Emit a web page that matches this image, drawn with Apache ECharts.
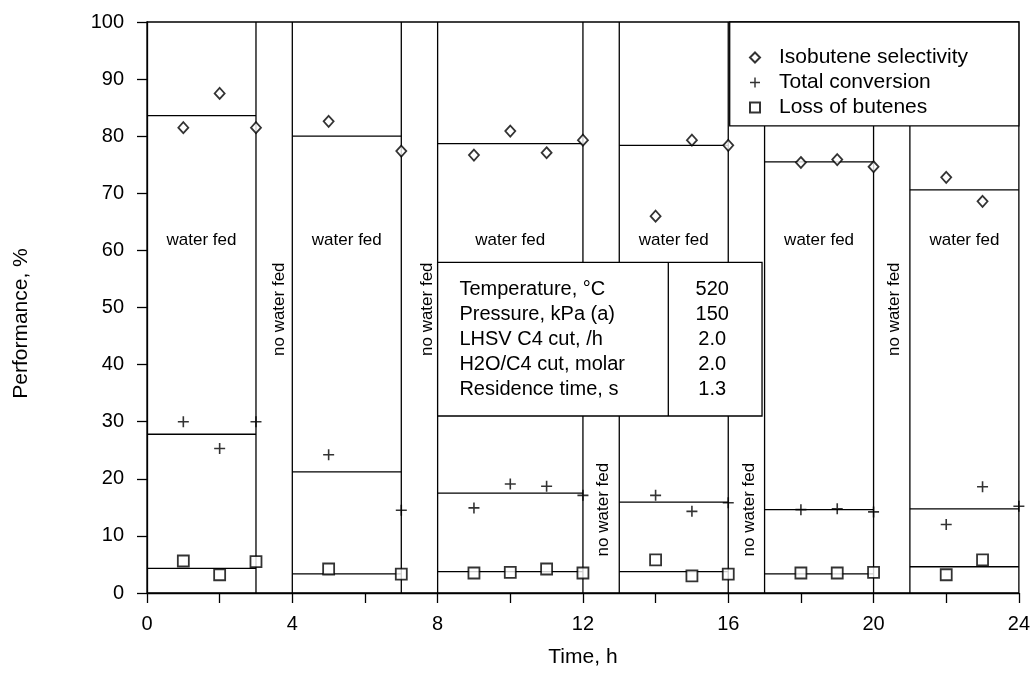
<!DOCTYPE html>
<html><head><meta charset="utf-8">
<script src="https://cdn.jsdelivr.net/npm/echarts@6/dist/echarts.min.js"></script>
<style>html,body{margin:0;padding:0;background:#fff}#c{width:1033px;height:673px}</style>
</head><body><div id="c"></div>
<script>
// ---- data ----
const seriesNames = ['Isobutene selectivity', 'Total conversion', 'Loss of butenes'];
const timeSel = [1,2,3,5,7,9,10,11,12,14,15,16,18,19,20,22,23];
const selectivity = [81.5,87.5,81.5,82.6,77.4,76.7,80.9,77.1,79.3,66.0,79.3,78.4,75.4,75.9,74.65,72.8,68.6];
const timeConv = [1,2,3,5,7,9,10,11,12,14,15,16,18,19,20,22,23,24];
const conversion = [30.0,25.3,30.0,24.2,14.5,14.9,19.1,18.7,17.1,17.1,14.3,15.8,14.6,14.75,14.2,12.0,18.6,15.2];
const timeLoss = [1,2,3,5,7,9,10,11,12,14,15,16,18,19,20,22,23];
const loss = [5.6,3.2,5.5,4.2,3.3,3.5,3.6,4.2,3.5,5.8,3.0,3.3,3.5,3.5,3.6,3.2,5.8];

// water-fed periods (h) and their average levels
const segStart = [0,4,8,13,17,21];
const segEnd = [3,7,12,16,20,24];
const selAvg = [83.6,80.0,78.7,78.4,75.5,70.6];
const convAvg = [27.8,21.2,17.5,15.9,14.6,14.75];
const lossAvg = [4.3,3.35,3.75,3.75,3.35,4.6];
const boundaries = [3,4,7,8,12,13,16,17,20,21];

// annotation labels
const waterFedLabel = 'water fed';
const waterFedY = 61.7;
const noWaterLabel = 'no water fed';
const noWaterX = [3.63,7.71,12.56,16.57,20.56];
const noWaterY = [49.7,49.7,14.6,14.6,49.7];

// conditions table
const tableLabels = ['Temperature, \u00b0C','Pressure, kPa (a)','LHSV C4 cut, /h','H2O/C4 cut, molar','Residence time, s'];
const tableValues = ['520','150','2.0','2.0','1.3'];
const tableBox = [8, 16.93, 31.0, 57.9];   // x0, x1, y0, y1
const tableDivider = 14.35;
const tableLabelX = 8.6;
const tableValueX = 15.56;
const legendBox = [16.04, 24, 81.8, 100];

const xMin = 0, xMax = 24, xStep = 2, xLabelStep = 4;
const yMin = 0, yMax = 100, yStep = 10;

// ---- build ----
const FONT = 'Liberation Sans, Arial, sans-serif';
const LW = 1.3;
const plusPath = 'path://M0,4.7H11V6.3H0Z M4.7,0H6.3V11H4.7Z';

const lineSegs = [];
boundaries.forEach(b => lineSegs.push([b, yMin, b, yMax]));
segStart.forEach((s, i) => {
  lineSegs.push([s, selAvg[i], segEnd[i], selAvg[i]]);
  lineSegs.push([s, convAvg[i], segEnd[i], convAvg[i]]);
  lineSegs.push([s, lossAvg[i], segEnd[i], lossAvg[i]]);
});

const labelItems = [];
segStart.forEach((s, i) => labelItems.push([(s + segEnd[i]) / 2, waterFedY, 0]));
noWaterX.forEach((x, i) => labelItems.push([x, noWaterY[i], 1]));

const chart = echarts.init(document.getElementById('c'), null, {renderer: 'canvas'});
chart.setOption({
  backgroundColor: '#fff',
  animation: false,
  grid: {left: 147, right: 13, top: 22, bottom: 75, show: true, borderColor: '#000', borderWidth: LW, backgroundColor: 'transparent'},
  legend: {
    data: seriesNames, orient: 'vertical', left: 749, top: 47, padding: 0,
    itemWidth: 10, itemHeight: 10, itemGap: 4, selectedMode: false, symbolKeepAspect: true,
    textStyle: {fontSize: 21, fontFamily: FONT, color: '#000', padding: [0, 0, 0, 14]}
  },
  xAxis: {
    type: 'value', min: xMin, max: xMax, interval: xStep,
    name: 'Time, h', nameLocation: 'middle', nameGap: 54,
    nameTextStyle: {fontSize: 21, fontFamily: FONT, color: '#000'},
    axisLine: {show: true, lineStyle: {color: '#000', width: LW}},
    axisTick: {show: true, length: 10, lineStyle: {color: '#000', width: LW}},
    axisLabel: {fontSize: 20, fontFamily: FONT, color: '#000', margin: 21,
      formatter: v => (v % xLabelStep === 0 ? String(v) : '')},
    splitLine: {show: false}
  },
  yAxis: {
    type: 'value', min: yMin, max: yMax, interval: yStep,
    name: 'Performance, %', nameLocation: 'middle', nameGap: 115,
    nameTextStyle: {fontSize: 21, fontFamily: FONT, color: '#000', padding: [0, 32, 0, 0]},
    axisLine: {show: true, lineStyle: {color: '#000', width: LW}},
    axisTick: {show: true, length: 10, lineStyle: {color: '#000', width: LW}},
    axisLabel: {fontSize: 20, fontFamily: FONT, color: '#000', margin: 23},
    splitLine: {show: false}
  },
  series: [
    {
      type: 'custom', name: 'lines', z: 2, silent: true,
      data: lineSegs,
      renderItem: (p, api) => {
        const a = api.coord([api.value(0), api.value(1)]);
        const b = api.coord([api.value(2), api.value(3)]);
        return {type: 'line', shape: {x1: a[0], y1: a[1], x2: b[0], y2: b[1]}, style: {stroke: '#000', lineWidth: LW}};
      }
    },
    {
      type: 'custom', name: 'labels', z: 3, silent: true,
      data: labelItems,
      renderItem: (p, api) => {
        const a = api.coord([api.value(0), api.value(1)]);
        const rot = api.value(2) === 1;
        return {type: 'text', x: a[0], y: a[1], rotation: rot ? Math.PI / 2 : 0,
          style: {text: rot ? noWaterLabel : waterFedLabel, fill: '#000', fontSize: 17, fontFamily: FONT, align: 'center', verticalAlign: 'middle'}};
      }
    },
    {
      type: 'custom', name: 'legendBox', z: 3, silent: true,
      data: [legendBox],
      renderItem: (p, api) => {
        const a = api.coord([api.value(0), api.value(3)]);
        const b = api.coord([api.value(1), api.value(2)]);
        return {type: 'rect', shape: {x: a[0], y: a[1], width: b[0] - a[0], height: b[1] - a[1]}, style: {fill: '#fff', stroke: '#000', lineWidth: LW}};
      }
    },
    {
      type: 'custom', name: 'table', z: 3, silent: true,
      data: [tableBox],
      renderItem: (p, api) => {
        const a = api.coord([api.value(0), api.value(3)]);
        const b = api.coord([api.value(1), api.value(2)]);
        const dx = api.coord([tableDivider, 0])[0];
        const lx = api.coord([tableLabelX, 0])[0];
        const vx = api.coord([tableValueX, 0])[0];
        const midY = (a[1] + b[1]) / 2;
        const rowH = 25;
        const children = [
          {type: 'rect', shape: {x: a[0], y: a[1], width: b[0] - a[0], height: b[1] - a[1]}, style: {fill: '#fff', stroke: '#000', lineWidth: LW}},
          {type: 'line', shape: {x1: dx, y1: a[1], x2: dx, y2: b[1]}, style: {stroke: '#000', lineWidth: LW}}
        ];
        tableLabels.forEach((t, i) => {
          const y = midY + (i - (tableLabels.length - 1) / 2) * rowH;
          children.push({type: 'text', x: lx, y: y, style: {text: t, fill: '#000', fontSize: 20, fontFamily: FONT, align: 'left', verticalAlign: 'middle'}});
          children.push({type: 'text', x: vx, y: y, style: {text: tableValues[i], fill: '#000', fontSize: 20, fontFamily: FONT, align: 'center', verticalAlign: 'middle'}});
        });
        return {type: 'group', children: children};
      }
    },
    {
      type: 'scatter', name: seriesNames[0], z: 5,
      data: timeSel.map((t, i) => [t, selectivity[i]]),
      symbol: 'diamond', symbolSize: [10, 11],
      itemStyle: {color: '#fff', borderColor: '#000', borderWidth: 1.8}
    },
    {
      type: 'scatter', name: seriesNames[1], z: 5,
      data: timeConv.map((t, i) => [t, conversion[i]]),
      symbol: plusPath, symbolSize: 11,
      itemStyle: {color: '#000', borderWidth: 0}
    },
    {
      type: 'scatter', name: seriesNames[2], z: 5,
      data: timeLoss.map((t, i) => [t, loss[i]]),
      symbol: 'rect', symbolSize: 11,
      itemStyle: {color: '#fff', borderColor: '#000', borderWidth: 1.8}
    }
  ]
});
</script></body></html>
